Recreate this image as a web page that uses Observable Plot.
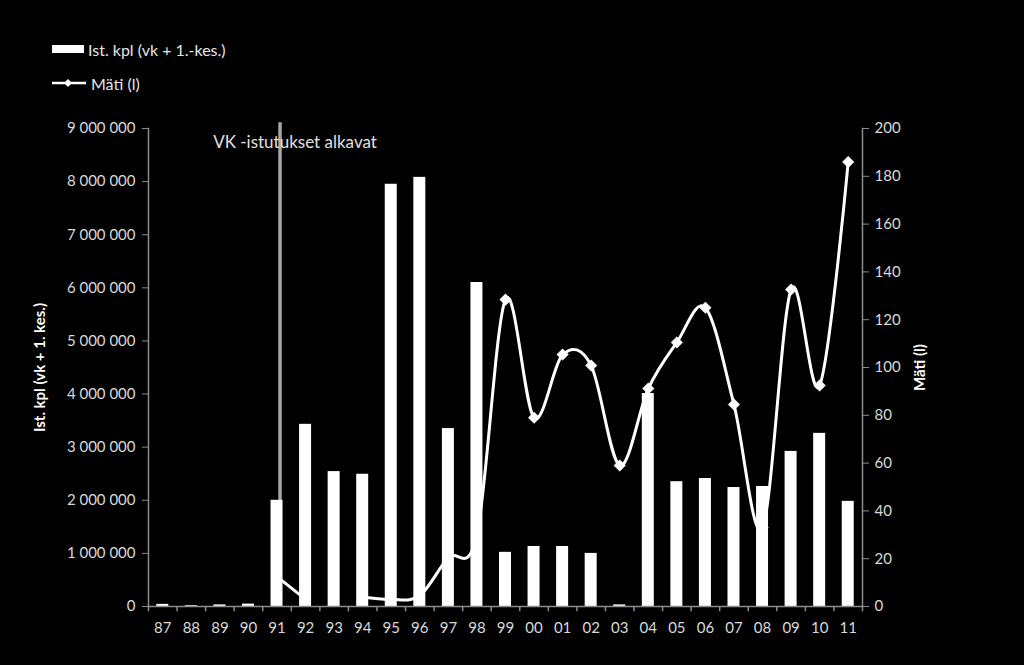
<!DOCTYPE html>
<html>
<head>
<meta charset="utf-8">
<script src="https://cdn.jsdelivr.net/npm/d3@7"></script>
<script src="https://cdn.jsdelivr.net/npm/@observablehq/plot@0.6"></script>
<style>
  html, body { margin: 0; padding: 0; background: #000; }
  body { width: 1024px; height: 665px; position: relative; overflow: hidden; font-family: Lato, "Open Sans", sans-serif; }
  #legend { position: absolute; left: 52px; top: 38px; color: #e6e6e6; font-size: 16px; z-index: 2; }
  .item { display: flex; align-items: center; height: 22px; margin-bottom: 12px; }
  .item svg { margin-right: 3px; }
  #chart { position: absolute; left: 0; top: 0; }
  svg text { font-family: Lato, "Open Sans", sans-serif; }
</style>
</head>
<body>
<div id="legend">
  <div class="item"><svg width="33" height="10"><rect x="0" y="1" width="32" height="8" fill="#fff"/></svg><span>Ist. kpl (vk + 1.-kes.)</span></div>
  <div class="item"><svg width="36" height="12"><line x1="0" y1="6" x2="34" y2="6" stroke="#fff" stroke-width="2.5"/><path d="M16,2 L20,6 L16,10 L12,6 Z" fill="#fff"/></svg><span>Mäti (l)</span></div>
</div>
<div id="chart"></div>
<script>
const years = ["87","88","89","90","91","92","93","94","95","96","97","98","99","00","01","02","03","04","05","06","07","08","09","10","11"];
const seedlings = [40000, 15000, 30000, 45000, 2000000, 3430000, 2540000, 2490000, 7950000, 8080000, 3350000, 6100000, 1020000, 1130000, 1130000, 1000000, 30000, 4010000, 2350000, 2410000, 2240000, 2260000, 2920000, 3260000, 1980000];
const roe = [null, null, null, null, 12.5, 3, null, 4, 3, 4.6, 20.5, 30, 128.4, 79, 105.4, 100.8, 59, 91.2, 110.5, 125, 84.5, 33, 132.6, 92.5, 186];
const leftTicks = [0, 1000000, 2000000, 3000000, 4000000, 5000000, 6000000, 7000000, 8000000, 9000000];
const rightTicks = [0, 20, 40, 60, 80, 100, 120, 140, 160, 180, 200];
const annotationYear = "91";
const annotationText = "VK -istutukset alkavat";
const annotationY = 8740000;
const annotationTop = 9110000;

const rightMax = 200, leftMax = 9000000;
const k = leftMax / rightMax;

const bars = years.map((y, i) => ({year: y, value: seedlings[i]}));
const pts = years.map((y, i) => ({year: y, roe: roe[i], v: roe[i] == null ? NaN : roe[i] * k, idx: i}));

const W = 1024, H = 665;
const mL = 148, mR = 162, mT = 128, mB = 59;
const step = (W - mL - mR) / years.length;
const axisColor = "#8c8c8c";
const labelColor = "#d9d9d9";
const fmt = d => d3.format(",")(d).replace(/,/g, " ");

const chart = Plot.plot({
  width: W, height: H,
  marginLeft: mL, marginRight: mR, marginTop: mT, marginBottom: mB,
  style: {background: "#000", color: labelColor, fontSize: "15px", fontFamily: "Lato, 'Open Sans', sans-serif", overflow: "visible"},
  x: {type: "band", domain: years, paddingInner: 0.58, paddingOuter: 0.29, round: false},
  y: {domain: [0, leftMax]},
  marks: [
    Plot.ruleX([annotationYear], {x: d => d, y1: 0, y2: annotationTop, stroke: "#a6a6a6", strokeWidth: 3.5, dx: 3}),
    Plot.barY(bars, {x: "year", y: "value", fill: "#fff"}),
    Plot.text([annotationText], {x: () => annotationYear, y: annotationY, text: d => d, fill: "#e0e0e0", fontSize: 17, dx: 18}),
    Plot.line(pts, {x: "year", y: "v", stroke: "#fff", strokeWidth: 3, curve: "cardinal"}),
    Plot.dot(pts.filter(d => d.roe != null && d.idx < 12), {x: "year", y: "v", symbol: "diamond2", r: 2.6, fill: "#fff"}),
    Plot.dot(pts.filter(d => d.roe != null && d.idx >= 12), {x: "year", y: "v", symbol: "diamond2", r: 5.2, fill: "#fff", stroke: "#fff", strokeWidth: 0.5}),
    Plot.ruleY([0], {stroke: axisColor, strokeWidth: 1.5}),
    Plot.frame({anchor: "left", stroke: axisColor, strokeWidth: 1.5}),
    Plot.frame({anchor: "right", stroke: axisColor, strokeWidth: 1.5}),
    Plot.ruleX(years, {x: d => d, y1: 0, y2: -100000, dx: -step / 2, stroke: axisColor, strokeWidth: 1.5}),
    Plot.ruleX([years[years.length - 1]], {x: d => d, y1: 0, y2: -100000, dx: step / 2, stroke: axisColor, strokeWidth: 1.5}),
    Plot.axisX({tickSize: 0, tickPadding: 16, fill: labelColor, fontSize: 15, label: null}),
    Plot.axisY(leftTicks, {anchor: "left", tickFormat: fmt, tickSize: 6, tickPadding: 7, stroke: axisColor, fill: labelColor, fontSize: 15,
      label: "Ist. kpl (vk + 1. kes.)", labelAnchor: "center", labelOffset: 114, labelArrow: "none"}),
    Plot.axisY(rightTicks.map(v => v * k), {anchor: "right", tickFormat: d => String(Math.round(d / k)), tickSize: 6, tickPadding: 6, stroke: axisColor, fill: labelColor, fontSize: 15,
      label: "Mäti (l)", labelAnchor: "center", labelOffset: 62, labelArrow: "none"})
  ]
});
document.getElementById("chart").appendChild(chart);
chart.querySelectorAll("g[aria-label='y-axis label'] text").forEach(t => { t.style.fontWeight = "bold"; t.style.fill = "#fff"; });
</script>
</body>
</html>
